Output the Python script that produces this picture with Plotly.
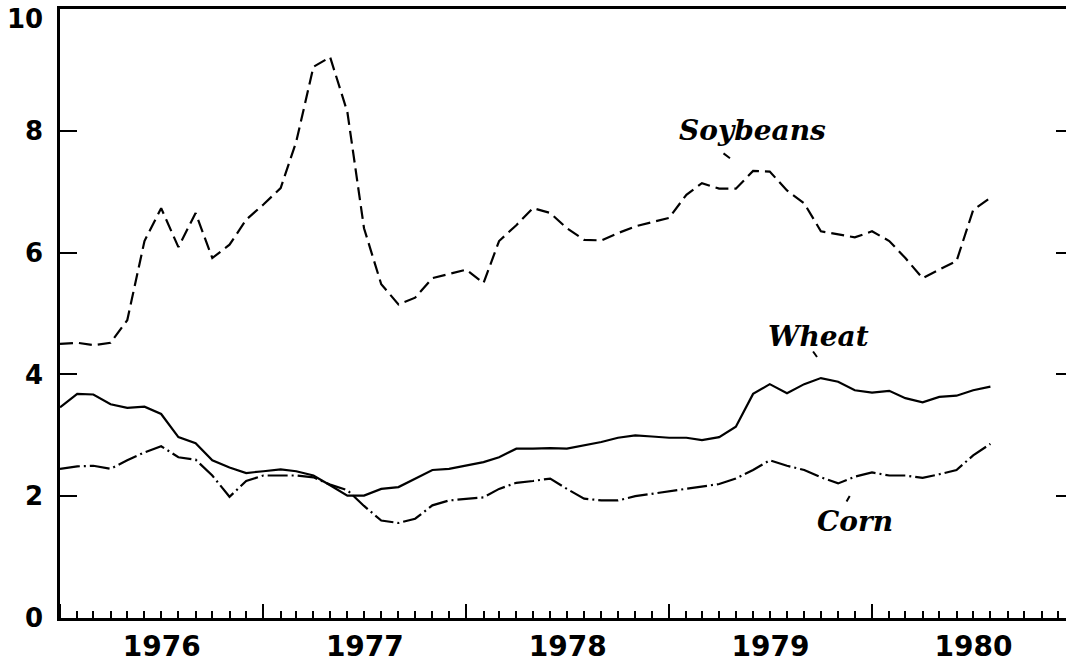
import plotly.graph_objects as go
import pandas as pd

# Monthly values, Jan 1976 .. Aug 1980
start_month = "1976-01-01"
soybeans = [4.50, 4.52, 4.48, 4.52, 4.89, 6.19, 6.73, 6.09, 6.65, 5.91,
            6.13, 6.54, 6.79, 7.06, 7.82, 9.05, 9.21, 8.31, 6.40, 5.48,
            5.15, 5.26, 5.58, 5.65, 5.72, 5.50, 6.19, 6.45, 6.73, 6.65,
            6.40, 6.21, 6.20, 6.32, 6.43, 6.50, 6.57, 6.95, 7.14, 7.05,
            7.05, 7.34, 7.33, 7.02, 6.81, 6.35, 6.30, 6.25, 6.35, 6.19,
            5.91, 5.58, 5.72, 5.86, 6.70, 6.90]
wheat = [3.46, 3.68, 3.67, 3.51, 3.45, 3.47, 3.35, 2.97, 2.87, 2.59,
         2.47, 2.38, 2.41, 2.44, 2.41, 2.34, 2.18, 2.01, 2.01, 2.12,
         2.15, 2.29, 2.43, 2.45, 2.50, 2.56, 2.64, 2.78, 2.78, 2.79,
         2.78, 2.83, 2.89, 2.96, 3.00, 2.98, 2.96, 2.96, 2.92, 2.97,
         3.14, 3.68, 3.84, 3.69, 3.84, 3.94, 3.88, 3.74, 3.70, 3.73,
         3.61, 3.54, 3.63, 3.65, 3.74, 3.80]
corn = [2.45, 2.49, 2.50, 2.45, 2.59, 2.72, 2.82, 2.64, 2.60, 2.34,
        1.99, 2.25, 2.34, 2.34, 2.34, 2.31, 2.19, 2.10, 1.84, 1.60,
        1.56, 1.63, 1.85, 1.93, 1.96, 1.98, 2.12, 2.22, 2.25, 2.29,
        2.12, 1.96, 1.93, 1.93, 2.00, 2.04, 2.07, 2.12, 2.16, 2.20,
        2.29, 2.43, 2.59, 2.50, 2.43, 2.31, 2.21, 2.32, 2.39, 2.34,
        2.34, 2.30, 2.36, 2.43, 2.67, 2.86]
y_ticks = [0, 2, 4, 6, 8]
y_ticklabels = ["0", "2", "4", "6", "8"]
y_top_label = "10"
x_range = ["1976-01-01", "1980-12-15"]

dates = pd.date_range(start_month, periods=len(soybeans), freq="MS")

fig = go.Figure()
fig.add_trace(go.Scatter(x=dates, y=soybeans, mode="lines", name="Soybeans",
                         line=dict(color="black", width=2.2, dash="13px,6px")))
fig.add_trace(go.Scatter(x=dates, y=wheat, mode="lines", name="Wheat",
                         line=dict(color="black", width=2.2)))
fig.add_trace(go.Scatter(x=dates, y=corn, mode="lines", name="Corn",
                         line=dict(color="black", width=2.2, dash="20px,4px,2px,4px")))
# placeholder trace for the right-hand tick axis
fig.add_trace(go.Scatter(x=[dates[0]], y=[None], yaxis="y2", mode="lines",
                         showlegend=False, hoverinfo="skip"))

lab_font = dict(family="DejaVu Serif", size=28, color="black")
tick_font = dict(family="DejaVu Sans", size=26, color="black")

def label(text, px, py):
    fig.add_annotation(text="<b><i>" + text + "</i></b>", xref="paper", yref="paper",
                       x=px, y=py, showarrow=False, font=lab_font,
                       xanchor="center", yanchor="middle")

def leader(px, py, ax, ay):
    fig.add_annotation(text="", xref="paper", yref="paper", x=px, y=py,
                       showarrow=True, arrowhead=0, arrowwidth=2, arrowcolor="black",
                       ax=ax, ay=ay, standoff=0, startstandoff=0)

label("Soybeans", 0.688, 0.800)
leader(0.666, 0.755, -8, -6)
label("Wheat", 0.7535, 0.463)
leader(0.7525, 0.4286, -5, -7)
label("Corn", 0.790, 0.159)
leader(0.785, 0.2003, -4, 7)

# top y label sits just below the top border, as in the original
fig.add_annotation(text="<b>" + y_top_label + "</b>", xref="paper", yref="paper",
                   x=-0.0149, y=0.9836, showarrow=False, font=tick_font,
                   xanchor="right", yanchor="middle")

fig.update_layout(
    width=1066, height=671,
    margin=dict(l=60, r=0, t=9, b=53, autoexpand=False),
    paper_bgcolor="white", plot_bgcolor="white",
    showlegend=False,
    xaxis=dict(
        type="date", range=x_range, automargin=False,
        showline=True, linecolor="black", linewidth=2.5, mirror=True,
        showgrid=False, zeroline=False,
        tick0="1976-01-01", dtick="M12", ticks="inside", ticklen=14,
        tickwidth=2, tickcolor="black",
        ticklabelmode="period", tickformat="%Y",
        tickfont=dict(family="DejaVu Sans", size=28, color="black"),
        ticklabelstandoff=2,
        minor=dict(dtick="M1", tick0="1976-01-01", ticks="inside", ticklen=7,
                   tickwidth=1.5, tickcolor="black", showgrid=False),
    ),
    yaxis=dict(
        range=[0, 10], showline=True, linecolor="black", linewidth=2.5,
        showgrid=False, zeroline=False, automargin=False,
        tickmode="array", tickvals=y_ticks, ticktext=[f"<b>{t}</b>" for t in y_ticklabels],
        ticks="inside", ticklen=17, tickwidth=2, tickcolor="black",
        tickfont=tick_font,
        ticklabelstandoff=9,
    ),
    yaxis2=dict(
        range=[0, 10], overlaying="y", side="right", showline=False,
        showgrid=False, zeroline=False, showticklabels=False, automargin=False,
        tickmode="array", tickvals=[2, 4, 6, 8],
        ticks="inside", ticklen=10, tickwidth=2, tickcolor="black",
    ),
)
fig.update_xaxes(tickprefix="<b>", ticksuffix="</b>")

fig.write_html("out.html", config={"displayModeBar": False},
               post_script="document.body.style.margin='0';document.body.style.overflow='hidden';")
